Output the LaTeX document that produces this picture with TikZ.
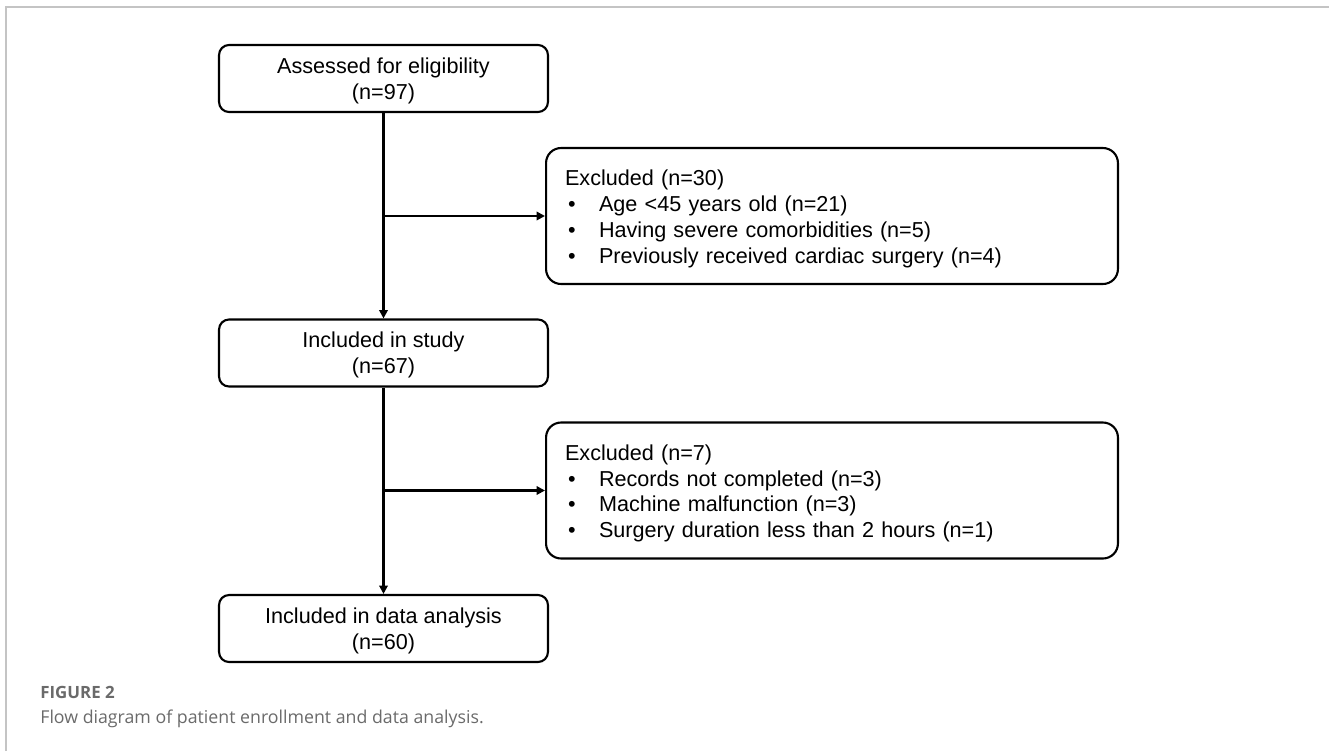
\documentclass[tikz,border=0pt]{standalone}
\usepackage{fontspec}
\setmainfont{Liberation Sans}
\newfontfamily\capfont{Open Sans}
\usetikzlibrary{arrows.meta}
\definecolor{framegray}{HTML}{C4C4C4}
\definecolor{capgray}{HTML}{6A6A6A}
\newcommand{\bul}{\makebox[0.68cm][l]{\hspace{0.06cm}\textbullet}}
\begin{document}
\begin{tikzpicture}[x=0.02cm, y=-0.02cm, line join=miter,
    every node/.style={font=\fontsize{12.3}{14.7}\selectfont},
    stagebox/.style={draw, line width=1.2pt, rounded corners=0.2cm, minimum width=6.58cm, minimum height=1.34cm, align=center, inner sep=0pt, text depth=-0.7pt},
    exclbox/.style={draw, line width=1.2pt, rounded corners=0.3cm, minimum height=2.72cm, text width=10.68cm, inner xsep=0.38cm, inner ysep=0pt, align=left, text depth=43.3pt},
    arr/.style={line width=1.2pt, -{Triangle[length=4.8pt, width=4.8pt]}}]
    \useasboundingbox (0,0) rectangle (1329,751);
    \draw[framegray, line width=1.1pt] (6,751) -- (6,7) -- (1329,7);
    \node[stagebox] (assessed) at (383.5,78.5) {Assessed for eligibility\\(n=97)};
    \node[stagebox] (included) at (383.5,353) {Included in study\\(n=67)};
    \node[stagebox] (analysis) at (383.5,628.5) {Included in data analysis\\(n=60)};
    \node[exclbox] (excla) at (832,216) {Excluded (n=30)\\\bul Age <45 years old (n=21)\\\bul Having severe comorbidities (n=5)\\\bul Previously received cardiac surgery (n=4)};
    \node[exclbox] (exclb) at (832,490.5) {Excluded (n=7)\\\bul Records not completed (n=3)\\\bul Machine malfunction (n=3)\\\bul Surgery duration less than 2 hours (n=1)};
    \draw[arr] (assessed) -- (included);
    \draw[arr] (included) -- (analysis);
    \draw[arr] (assessed.south |- excla.west) -- (excla.west);
    \draw[arr] (included.south |- exclb.west) -- (exclb.west);
    \node[anchor=base west, inner sep=0pt, text=capgray, font=\capfont\bfseries\fontsize{9.6}{11}\selectfont] (fignum) at (40,698) {FIGURE 2};
    \node[anchor=base west, inner sep=0pt, text=capgray, font=\capfont\fontsize{10.1}{12}\selectfont] (figcap) at (40,723) {Flow diagram of patient enrollment and data analysis.};
\end{tikzpicture}
\end{document}
